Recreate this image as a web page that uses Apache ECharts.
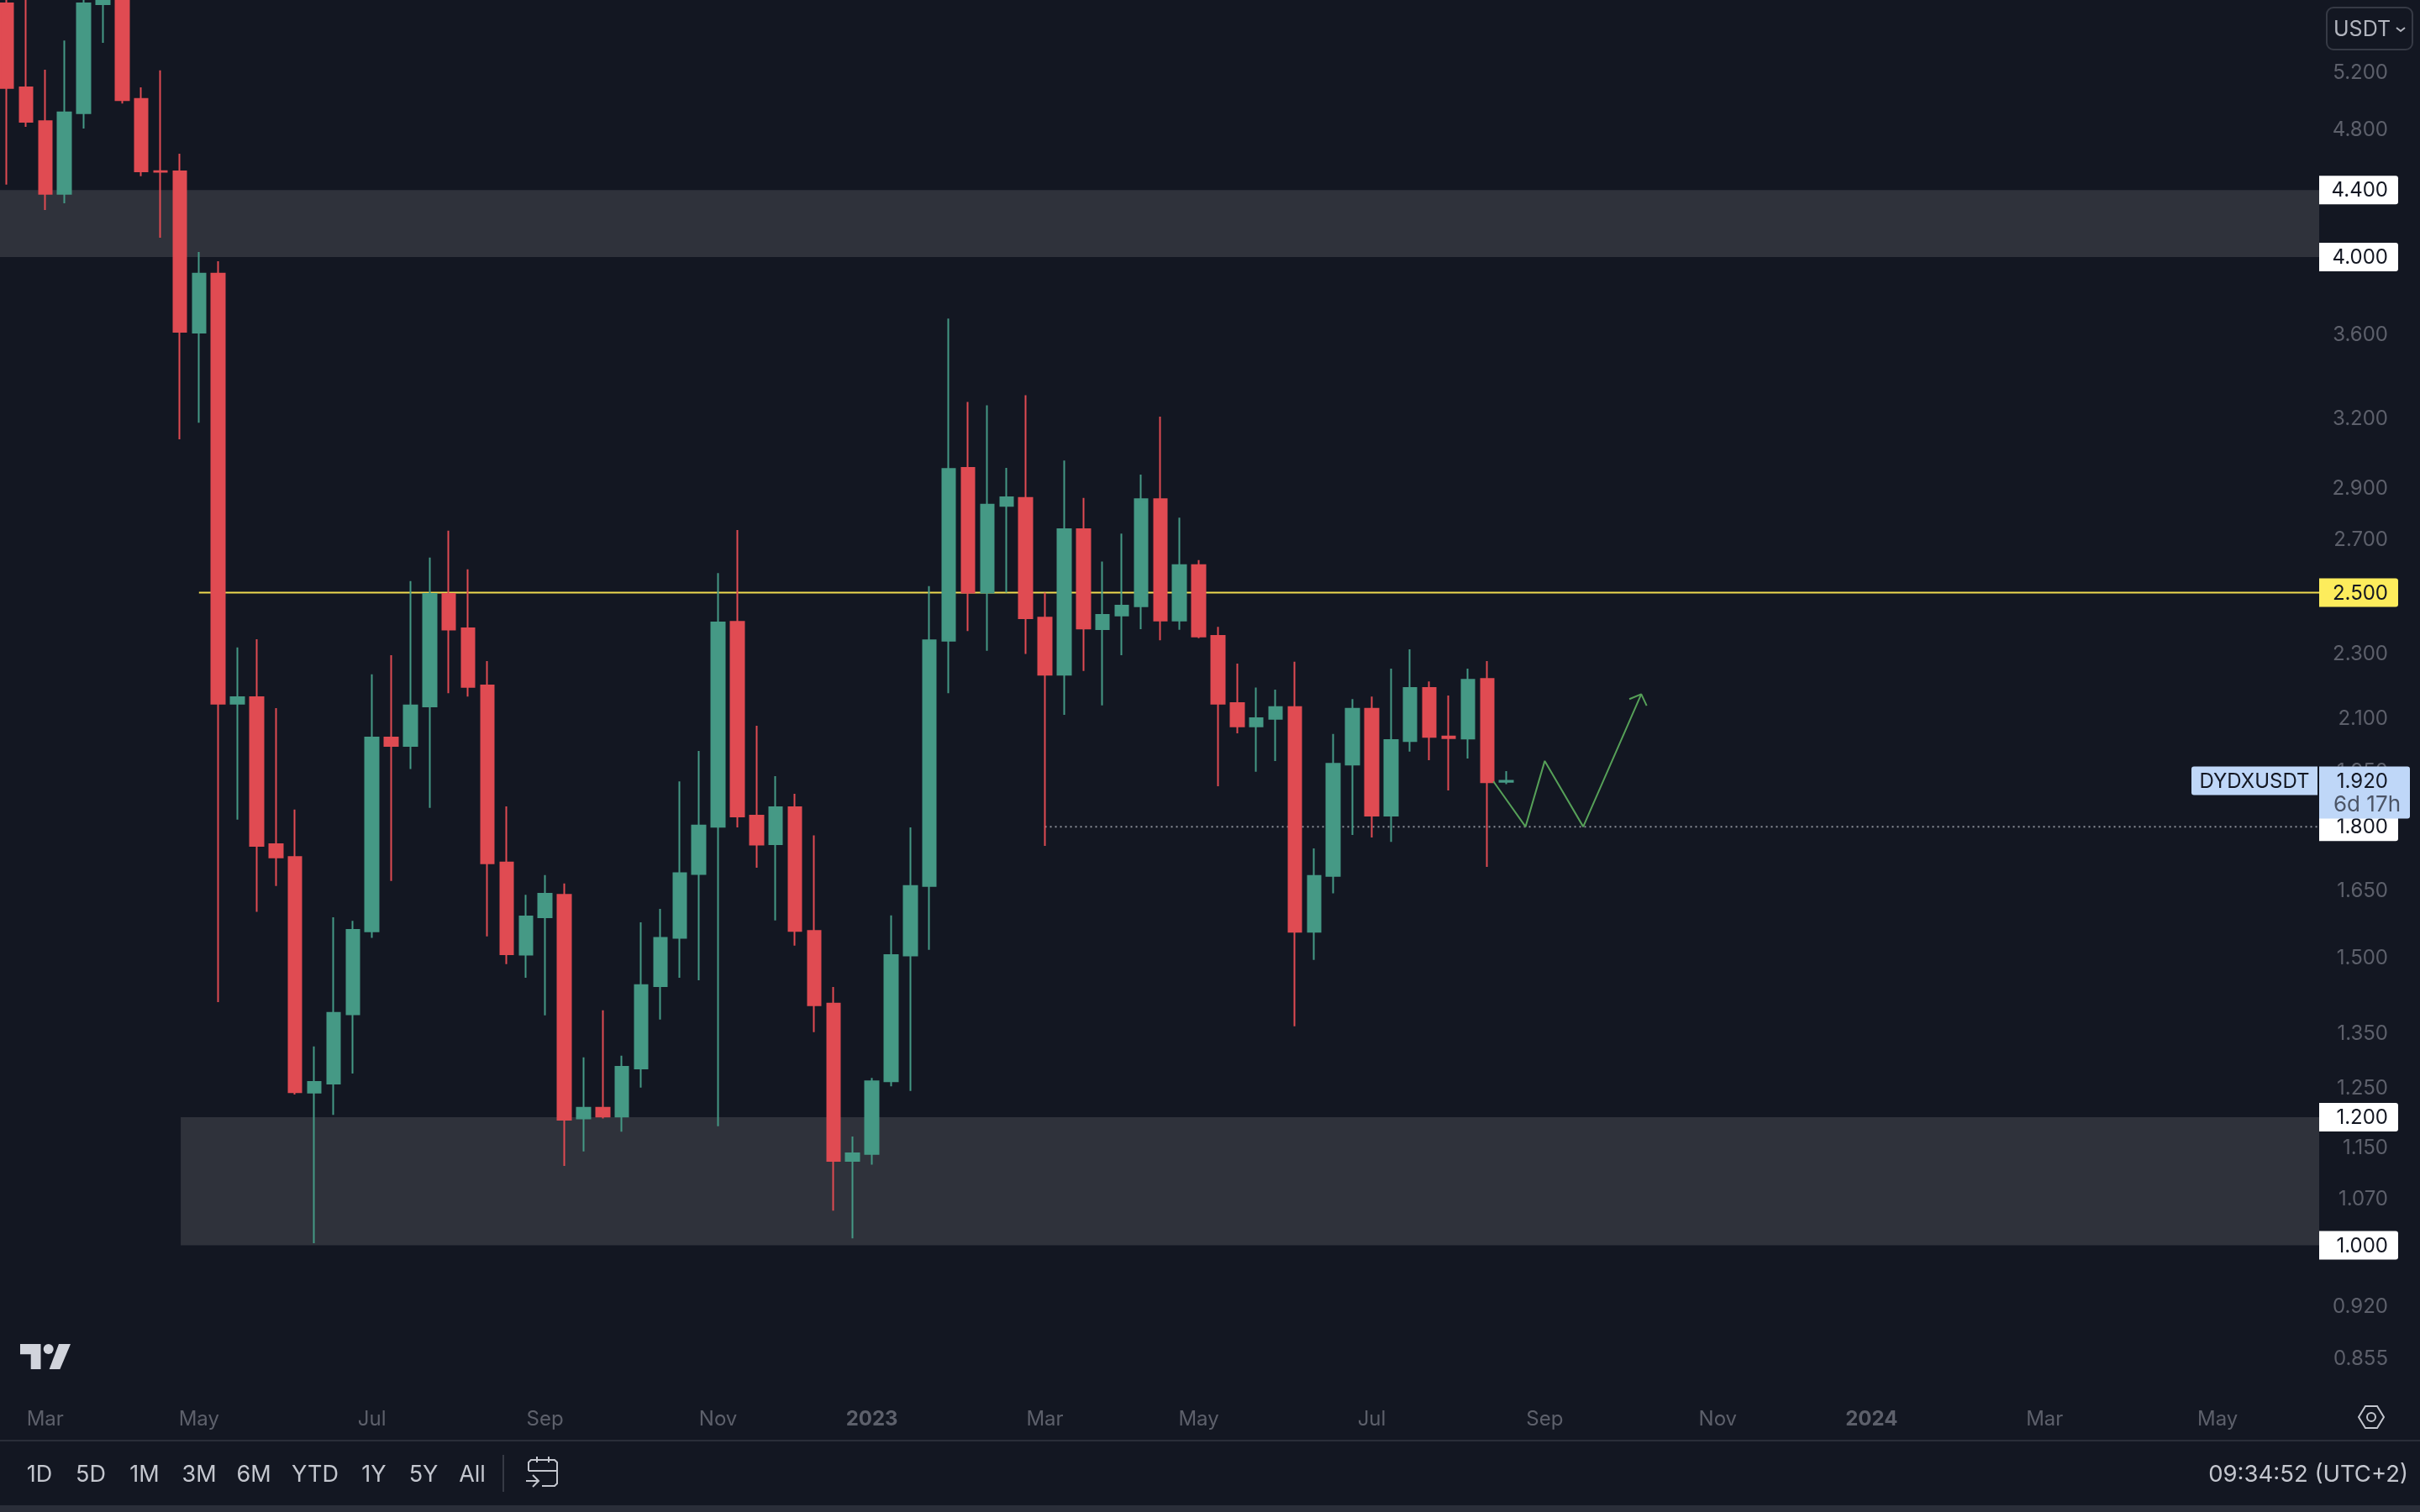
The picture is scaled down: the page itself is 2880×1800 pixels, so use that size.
<!DOCTYPE html>
<html>
<head>
<meta charset="utf-8">
<title>DYDXUSDT 1W</title>
<script src="https://cdn.jsdelivr.net/npm/echarts@6/dist/echarts.min.js"></script>
<style>
    html, body { margin: 0; padding: 0; background: #131722; }
    #main { width: 2880px; height: 1800px; }
</style>
</head>
<body>
<div id="main"></div>
<script>
// weekly candles, index 0 = week of 2022-02-21
var opens = [5.718, 5.082, 4.847, 4.376, 4.901, 5.711, 5.95, 5.0, 4.518, 4.517,
    3.601, 3.912, 2.139, 2.159, 1.756, 1.725, 1.239, 1.255, 1.383, 1.554,
    2.04, 2.016, 2.131, 2.496, 2.378, 2.195, 1.712, 1.504, 1.585, 1.636,
    1.195, 1.213, 1.198, 1.282, 1.439, 1.54, 1.684, 1.8, 2.4, 1.828,
    1.756, 1.85, 1.555, 1.404, 1.126, 1.137, 1.259, 1.502, 1.656, 2.337,
    2.979, 2.5, 2.824, 2.856, 2.414, 2.228, 2.733, 2.375, 2.421, 2.453,
    2.851, 2.404, 2.599, 2.353, 2.141, 2.072, 2.094, 2.129, 1.553, 1.68,
    1.964, 2.124, 1.828, 2.03, 2.187, 2.043, 2.037, 2.215, 1.917];
var closes = [5.077, 4.842, 4.376, 4.906, 5.718, 5.95, 4.992, 4.517, 4.514, 3.606,
    3.912, 2.139, 2.159, 1.752, 1.724, 1.24, 1.258, 1.386, 1.557, 2.04,
    2.016, 2.134, 2.496, 2.374, 2.19, 1.71, 1.505, 1.587, 1.638, 1.193,
    1.213, 1.198, 1.285, 1.441, 1.54, 1.686, 1.803, 2.398, 1.826, 1.755,
    1.85, 1.555, 1.401, 1.126, 1.138, 1.259, 1.503, 1.656, 2.338, 2.974,
    2.5, 2.829, 2.858, 2.412, 2.228, 2.733, 2.377, 2.423, 2.455, 2.851,
    2.404, 2.599, 2.351, 2.139, 2.072, 2.096, 2.129, 1.553, 1.68, 1.966,
    2.124, 1.828, 2.033, 2.187, 2.042, 2.038, 2.212, 1.916, 1.92];
var lows = [4.434, 4.808, 4.278, 4.319, 4.797, 5.41, 4.968, 4.486, 4.115, 3.101,
    3.174, 1.407, 1.818, 1.597, 1.656, 1.236, 1.003, 1.201, 1.273, 1.54,
    1.668, 1.952, 1.848, 2.171, 2.161, 1.543, 1.484, 1.456, 1.381, 1.118,
    1.141, 1.195, 1.173, 1.248, 1.373, 1.456, 1.451, 1.182, 1.798, 1.699,
    1.578, 1.523, 1.349, 1.05, 1.01, 1.12, 1.25, 1.242, 1.514, 2.171,
    2.369, 2.304, 2.5, 2.294, 1.752, 2.106, 2.24, 2.134, 2.29, 2.375,
    2.338, 2.373, 2.345, 1.905, 2.052, 1.944, 1.974, 1.36, 1.493, 1.639,
    1.779, 1.773, 1.762, 2.0, 1.976, 1.894, 1.981, 1.701, 1.911];
var highs = [5.85, 5.88, 5.209, 5.428, 5.78, 6.05, 6.05, 5.082, 5.204, 4.63,
    4.033, 3.981, 2.315, 2.342, 2.126, 1.844, 1.322, 1.585, 1.577, 2.229,
    2.29, 2.541, 2.626, 2.727, 2.583, 2.271, 1.852, 1.636, 1.682, 1.662,
    1.302, 1.391, 1.305, 1.574, 1.604, 1.918, 2.002, 2.57, 2.73, 2.074,
    1.932, 1.885, 1.778, 1.437, 1.165, 1.265, 1.589, 1.798, 2.523, 3.673,
    3.268, 3.252, 2.979, 3.299, 2.5, 3.01, 2.856, 2.612, 2.716, 2.951,
    3.201, 2.778, 2.617, 2.383, 2.263, 2.188, 2.182, 2.269, 1.746, 2.05,
    2.153, 2.161, 2.247, 2.309, 2.207, 2.164, 2.247, 2.271, 1.946];

// price axis
var priceTicks = [5.2, 4.8, 3.6, 3.2, 2.9, 2.7, 2.3, 2.1, 1.95, 1.65, 1.5, 1.35, 1.25, 1.15, 1.07, 0.92, 0.855];
var tagPrices = [4.4, 4.005, 2.5, 1.8, 1.197, 1.0];
var tagLabels = ['4.400', '4.000', '2.500', '1.800', '1.200', '1.000'];
var tagColors = ['#ffffff', '#ffffff', '#fdec5c', '#ffffff', '#ffffff', '#ffffff'];
var lastPrice = 1.92;

// time axis, month labels sit on the first weekly candle of the month
var monthWeeks = [2, 10, 19, 28, 37, 45, 54, 62, 71, 80, 89, 97, 106, 115];
var monthLabels = ['Mar', 'May', 'Jul', 'Sep', 'Nov', '2023', 'Mar', 'May', 'Jul', 'Sep', 'Nov', '2024', 'Mar', 'May'];

// drawings on the chart
var zoneTop = [4.4, 4.005];
var zoneBottom = [1.197, 1.0];
var zoneBottomStart = 9.05;
var resistanceStart = 10;
var supportStart = 54;
var pathWeeks = [77.33, 79, 80, 82, 85.02];
var pathPrices = [1.918, 1.8, 1.974, 1.8, 2.168];
var headWeeks = [84.4, 85.02, 85.3];
var headPrices = [2.153, 2.168, 2.133];

var rangeButtons = ['1D', '5D', '1M', '3M', '6M', 'YTD', '1Y', '5Y', 'All'];
var rangeCenters = [47, 108, 172, 237, 302, 375, 445, 504, 562];

var xMin = -0.35, xMax = 120.28;
var yMin = 0.8112, yMax = 5.745;
var bg = '#131722', up = '#459985', down = '#e04b52';
var font = 'Inter, "Liberation Sans", sans-serif';

function zip(xs, ys) {
    var res = [];
    for (var i = 0; i < xs.length; i++) res.push([xs[i], ys[i]]);
    return res;
}

var candles = [];
for (var i = 0; i < opens.length; i++) {
    candles.push([i, opens[i], closes[i], lows[i], highs[i]]);
}

// tags on the price scale
function renderTag(params, api) {
    var idx = params.dataIndex;
    var p = api.coord([xMax, tagPrices[idx]]);
    return {
        type: 'group',
        children: [
            { type: 'rect', shape: { x: p[0], y: p[1] - 17, width: 94, height: 34, r: [0, 3, 3, 0] },
              style: { fill: tagColors[idx] } },
            { type: 'text', style: { x: 2842, y: p[1] + 1, text: tagLabels[idx], fill: '#131722', font: '24px ' + font,
              textAlign: 'right', textVerticalAlign: 'middle' } }
        ]
    };
}

function renderLast(params, api) {
    var p = api.coord([xMax, lastPrice]);
    return {
        type: 'group',
        children: [
            { type: 'rect', shape: { x: p[0], y: p[1] - 17, width: 108, height: 62, r: [0, 3, 3, 0] },
              style: { fill: '#bfd7f8' } },
            { type: 'text', style: { x: 2842, y: p[1] + 1, text: '1.920', fill: '#131722', font: '24px ' + font,
              textAlign: 'right', textVerticalAlign: 'middle' } },
            { type: 'text', style: { x: 2777, y: p[1] + 29, text: '6d 17h', fill: '#4c5566', font: '26px ' + font,
              textAlign: 'left', textVerticalAlign: 'middle' } },
            { type: 'rect', shape: { x: p[0] - 152, y: p[1] - 17, width: 150, height: 34, r: [3, 0, 0, 3] },
              style: { fill: '#bfd7f8' } },
            { type: 'text', style: { x: p[0] - 77, y: p[1] + 1, text: 'DYDXUSDT', fill: '#131722', font: '24px ' + font,
              textAlign: 'center', textVerticalAlign: 'middle' } }
        ]
    };
}

// toolbar, logo and icons around the chart
function makeGraphics() {
    var g = [];
    var iconColor = '#c3c6ce';
    g.push({ type: 'rect', shape: { x: 0, y: 1714, width: 2880, height: 2 }, style: { fill: '#2a2e39' } });
    g.push({ type: 'rect', shape: { x: 0, y: 1792, width: 2880, height: 8 }, style: { fill: '#2a2e39' } });
    for (var i = 0; i < rangeButtons.length; i++) {
        g.push({ type: 'text', style: { x: rangeCenters[i], y: 1756, text: rangeButtons[i], fill: iconColor,
            font: '27px ' + font, textAlign: 'center', textVerticalAlign: 'middle' } });
    }
    g.push({ type: 'rect', shape: { x: 598, y: 1732, width: 2, height: 44 }, style: { fill: '#363a45' } });
    g.push({ type: 'text', style: { x: 2866, y: 1756, text: '09:34:52 (UTC+2)', fill: iconColor,
        font: '27.5px ' + font, textAlign: 'right', textVerticalAlign: 'middle' } });

    // calendar icon
    var stroke = { stroke: iconColor, lineWidth: 2, fill: null };
    g.push({ type: 'polyline', shape: { points: [[629, 1751], [629, 1741], [632, 1738], [660, 1738], [663, 1741], [663, 1766], [660, 1769], [645, 1769]] }, style: stroke });
    g.push({ type: 'polyline', shape: { points: [[629, 1751], [663, 1751]] }, style: stroke });
    g.push({ type: 'polyline', shape: { points: [[639, 1734], [639, 1741]] }, style: stroke });
    g.push({ type: 'polyline', shape: { points: [[653, 1734], [653, 1741]] }, style: stroke });
    g.push({ type: 'polyline', shape: { points: [[626, 1763], [641, 1763]] }, style: stroke });
    g.push({ type: 'polyline', shape: { points: [[634, 1756], [641, 1763], [634, 1770]] }, style: stroke });

    // settings icon
    g.push({ type: 'polygon', shape: { points: [[2807, 1687], [2815, 1674], [2829, 1674], [2837, 1687], [2829, 1700], [2815, 1700]] }, style: stroke });
    g.push({ type: 'circle', shape: { cx: 2822, cy: 1687, r: 5 }, style: stroke });

    // logo
    var logo = { fill: '#d1d4dc' };
    g.push({ type: 'polygon', shape: { points: [[24, 1600], [48.5, 1600], [48.5, 1630], [36.7, 1630], [36.7, 1612.3], [24, 1612.3]] }, style: logo });
    g.push({ type: 'circle', shape: { cx: 57.7, cy: 1606, r: 6 }, style: logo });
    g.push({ type: 'polygon', shape: { points: [[70, 1600], [84, 1600], [71.4, 1630], [58.7, 1630]] }, style: logo });

    // currency button
    g.push({ type: 'rect', shape: { x: 2769, y: 9, width: 102, height: 50, r: 8 },
        style: { stroke: '#363a45', lineWidth: 2, fill: null } });
    g.push({ type: 'text', style: { x: 2777, y: 35, text: 'USDT', fill: '#b2b5be', font: '25px ' + font,
        textAlign: 'left', textVerticalAlign: 'middle' } });
    g.push({ type: 'polyline', shape: { points: [[2852, 33], [2857, 37], [2862, 33]] },
        style: { stroke: '#b2b5be', lineWidth: 2, fill: null } });
    return g;
}

var myChart = echarts.init(document.getElementById('main'), null, { renderer: 'canvas' });
var option = {
    animation: false,
    backgroundColor: bg,
    grid: { left: 0, right: 120, top: 0, bottom: 140 },
    xAxis: {
        type: 'value',
        min: xMin,
        max: xMax,
        splitLine: { show: false },
        axisLine: { show: false },
        axisTick: { show: false },
        axisLabel: {
            customValues: monthWeeks,
            margin: 18,
            color: '#5d606b',
            fontFamily: font,
            fontSize: 24,
            formatter: function (v) {
                var s = monthLabels[monthWeeks.indexOf(v)];
                return s.length === 4 ? '{year|' + s + '}' : s;
            },
            rich: { year: { fontFamily: font, fontSize: 24, fontWeight: 'bold', color: '#5d606b' } }
        }
    },
    yAxis: {
        type: 'log',
        position: 'right',
        min: yMin,
        max: yMax,
        splitLine: { show: false },
        minorSplitLine: { show: false },
        axisLine: { show: false },
        axisTick: { show: false },
        axisLabel: {
            customValues: priceTicks,
            margin: 82,
            align: 'right',
            color: '#5d606b',
            fontFamily: font,
            fontSize: 24,
            formatter: function (v) { return '{t|' + Number(v).toFixed(3) + '}'; },
            // the labels sit a little low on their price, like the original
            rich: { t: { fontFamily: font, fontSize: 24, color: '#5d606b', padding: [5, 0, 0, 0] } }
        }
    },
    series: [
        {
            type: 'line',
            name: 'zones',
            z: 1,
            silent: true,
            symbol: 'none',
            data: [],
            markArea: {
                silent: true,
                itemStyle: { color: '#2f323b' },
                data: [
                    [{ coord: [xMin, zoneTop[0]] }, { coord: [xMax, zoneTop[1]] }],
                    [{ coord: [zoneBottomStart, zoneBottom[0]] }, { coord: [xMax, zoneBottom[1]] }]
                ]
            }
        },
        {
            type: 'line',
            name: 'resistance',
            z: 2,
            symbol: 'none',
            lineStyle: { color: '#f0da4f', width: 2 },
            data: [[resistanceStart, 2.5], [xMax, 2.5]]
        },
        {
            type: 'line',
            name: 'support',
            z: 2,
            symbol: 'none',
            lineStyle: { color: '#8b8e98', width: 2, type: [2, 4] },
            data: [[supportStart, 1.8], [xMax, 1.8]]
        },
        {
            type: 'candlestick',
            name: 'DYDXUSDT',
            z: 5,
            barWidth: 16,
            itemStyle: {
                color: up,
                color0: down,
                borderColor: up,
                borderColor0: down,
                borderWidth: 2
            },
            data: candles
        },
        {
            type: 'line',
            name: 'path',
            z: 6,
            symbol: 'none',
            lineStyle: { color: '#56a058', width: 2 },
            data: zip(pathWeeks, pathPrices)
        },
        {
            type: 'line',
            name: 'arrow',
            z: 6,
            symbol: 'none',
            lineStyle: { color: '#56a058', width: 2 },
            data: zip(headWeeks, headPrices)
        },
        {
            type: 'custom',
            name: 'tags',
            z: 7,
            silent: true,
            renderItem: renderTag,
            data: tagPrices
        },
        {
            type: 'custom',
            name: 'last',
            z: 8,
            silent: true,
            renderItem: renderLast,
            data: [lastPrice]
        }
    ],
    graphic: makeGraphics()
};
myChart.setOption(option);
</script>
</body>
</html>
